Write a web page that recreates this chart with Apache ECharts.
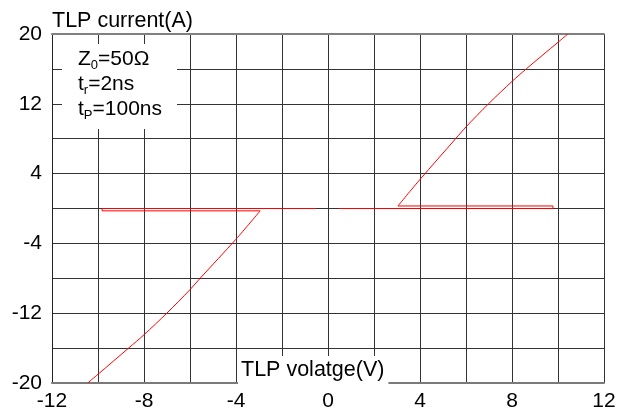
<!DOCTYPE html>
<html><head><meta charset="utf-8">
<script src="https://cdn.jsdelivr.net/npm/echarts@6/dist/echarts.min.js"></script>
<style>html,body{margin:0;padding:0;background:#fff}#c{width:630px;height:412px}</style>
</head><body><div id="c"></div>
<script>
// ---- data ----
const xTickStep = 4, xMin = -12, xMax = 12;
const yTickStep = 8, yMin = -20, yMax = 20;
// negative-polarity sweep: flat leakage trace, snapback, then on-state curve
const negFlat = [[-0.52, 0], [-9.82, 0], [-9.82, -0.27], [-2.95, -0.27]];
const negCurve = [[-2.95, -0.27], [-4.0, -3.52], [-5.56, -8], [-6.0, -9.3], [-7.01, -12], [-8.0, -14.47], [-8.67, -16], [-10.0, -19.0], [-10.45, -20]];
// positive-polarity sweep
const posFlat = [[0.48, 0], [9.78, 0], [9.78, 0.29], [3.04, 0.29]];
const posCurve = [[3.04, 0.29], [4.0, 3.33], [5.55, 8], [6.0, 9.35], [6.98, 12], [8.0, 14.56], [8.62, 16], [10.0, 19.05], [10.43, 20]];
const xName = 'TLP volatge(V)';
const yName = 'TLP current(A)';
const infoText = '{n|Z}{s|0}{n|=50Ω}\n{n|t}{s|r}{n|=2ns}\n{n|t}{s|P}{n|=100ns}';

const FONT = 'Liberation Sans, Arial, sans-serif';
const gridLine = { color: '#333', width: 1 };
const chart = echarts.init(document.getElementById('c'), null, { renderer: 'canvas' });
const redLine = (d, smooth) => ({
  type: 'line', data: d, showSymbol: false, symbol: 'none',
  smooth: smooth ? 0.3 : false,
  lineStyle: { color: '#ff0000', width: 1 }, itemStyle: { color: '#ff0000' },
  animation: false, clip: true, z: 5
});
chart.setOption({
  animation: false,
  backgroundColor: '#fff',
  grid: { left: 52, right: 26, top: 34, bottom: 28, containLabel: false },
  xAxis: [{
    type: 'value', min: xMin, max: xMax, interval: xTickStep, position: 'bottom',
    axisLine: { show: true, onZero: false, lineStyle: { color: '#7a7a7a', width: 2 } },
    axisTick: { show: false },
    minorTick: { show: false, splitNumber: 2 },
    axisLabel: { color: '#000', fontSize: 21, fontFamily: FONT, margin: 8 },
    splitLine: { show: true, lineStyle: gridLine },
    minorSplitLine: { show: true, lineStyle: gridLine }
  }, {
    type: 'value', min: xMin, max: xMax, interval: xTickStep, position: 'top',
    axisLine: { show: true, onZero: false, lineStyle: { color: '#808080', width: 2 } },
    axisTick: { show: false }, axisLabel: { show: false }, splitLine: { show: false }
  }],
  yAxis: {
    type: 'value', min: yMin, max: yMax, interval: yTickStep,
    name: yName, nameLocation: 'end', nameGap: 13,
    nameTextStyle: { color: '#000', fontSize: 21.5, fontFamily: FONT, align: 'left', verticalAlign: 'middle' },
    axisLine: { show: true, onZero: false, lineStyle: { color: '#222', width: 1 } },
    axisTick: { show: false },
    minorTick: { show: false, splitNumber: 2 },
    axisLabel: { color: '#000', fontSize: 21, fontFamily: FONT, margin: 10 },
    splitLine: { show: true, lineStyle: gridLine },
    minorSplitLine: { show: true, lineStyle: gridLine }
  },
  graphic: [
    { type: 'rect', left: 62, top: 44, shape: { width: 115, height: 85 }, style: { fill: '#fff' }, z: 10 },
    { type: 'text', left: 78, top: 49, z: 11,
      style: { text: infoText, fill: '#000', font: '21px ' + FONT,
        rich: { n: { fontSize: 21, fontFamily: FONT, lineHeight: 25, fill: '#000' },
                s: { fontSize: 13, fontFamily: FONT, lineHeight: 25, verticalAlign: 'bottom', fill: '#000' } } } },
    { type: 'text', left: 238, top: 356, z: 11,
      style: { text: xName, fill: '#000', font: '21.5px ' + FONT, backgroundColor: '#fff', padding: [3, 4, 4, 3] } }
  ],
  series: [redLine(negFlat, false), redLine(negCurve, true), redLine(posFlat, false), redLine(posCurve, true)]
});
</script></body></html>
